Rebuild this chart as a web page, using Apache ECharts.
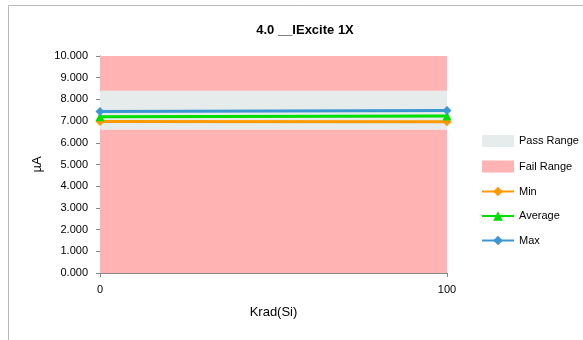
<!DOCTYPE html>
<html><head><meta charset="utf-8">
<script src="https://cdn.jsdelivr.net/npm/echarts@6/dist/echarts.min.js"></script>
<style>html,body{margin:0;padding:0;background:#fff}#c{width:583px;height:340px}</style>
</head><body><div id="c"></div>
<script>
const xValues = [0, 100];
const minValues = [6.98, 6.97];
const avgValues = [7.20, 7.24];
const maxValues = [7.44, 7.49];
const passRange = [6.6, 8.4];
const yRange = [0, 10];
const font = 'Liberation Sans, Arial, sans-serif';

const chart = echarts.init(document.getElementById('c'));
chart.setOption({
  animation: false,
  graphic: [{type:'rect', shape:{x:8.5,y:5.5,width:600,height:400}, style:{fill:'none',stroke:'#b8b8b8',lineWidth:1}, z:-10}],
  title: {text: '4.0 __IExcite 1X', left: 300, top: 19, textAlign: 'center',
    textStyle: {fontFamily: font, fontSize: 13, fontWeight: 'bold', color: '#000'}},
  grid: {left: 100, right: 136, top: 56, bottom: 67},
  legend: {orient: 'vertical', left: 476, top: 130, itemGap: 13.5, itemWidth: 32, itemHeight: 12,
    textStyle: {fontFamily: font, fontSize: 11, color: '#000'},
    data: [
      {name: 'Pass Range', icon: 'rect', itemStyle:{color:'#E6EBEB'}},
      {name: 'Fail Range', icon: 'rect', itemStyle:{color:'#FFB3B3'}},
      {name: 'Min'}, {name: 'Average'}, {name: 'Max'}
    ]},
  xAxis: {type: 'value', min: 0, max: 100, interval: 100,
    name: 'Krad(Si)', nameLocation: 'middle', nameGap: 33,
    nameTextStyle: {fontFamily: font, fontSize: 13, color: '#000'},
    axisLine: {lineStyle: {color: '#888'}}, axisTick: {show: true, length: 4, lineStyle:{color:'#888'}},
    splitLine: {show: false},
    axisLabel: {fontFamily: font, fontSize: 11, color: '#000', margin: 11}},
  yAxis: {type: 'value', min: yRange[0], max: yRange[1], interval: 1,
    name: 'µA', nameLocation: 'middle', nameGap: 53,
    nameTextStyle: {fontFamily: font, fontSize: 13, color: '#000'},
    axisLine: {show: true, lineStyle: {color: '#888'}}, axisTick: {show: true, length: 4, lineStyle:{color:'#888'}},
    splitLine: {show: false},
    axisLabel: {fontFamily: font, fontSize: 11, color: '#000', margin: 12, formatter: v => v.toFixed(3)}},
  series: [
    {name: 'Pass Range', type: 'line', data: [], itemStyle: {color: '#E6EBEB'},
      markArea: {silent: true, itemStyle: {color: '#E6EBEB'},
        data: [[{yAxis: passRange[0]}, {yAxis: passRange[1]}]]}},
    {name: 'Fail Range', type: 'line', data: [], itemStyle: {color: '#FFB3B3'},
      markArea: {silent: true, itemStyle: {color: '#FFB3B3'},
        data: [[{yAxis: yRange[0]}, {yAxis: passRange[0]}], [{yAxis: passRange[1]}, {yAxis: yRange[1]}]]}},
    {name: 'Min', type: 'line', data: xValues.map((x,i)=>[x,minValues[i]]), symbol: 'diamond', symbolSize: 9,
      lineStyle: {width: 3, color: '#FF9900'}, itemStyle: {color: '#FF9900'}, z: 5},
    {name: 'Average', type: 'line', data: xValues.map((x,i)=>[x,avgValues[i]]), symbol: 'triangle', symbolSize: 9,
      lineStyle: {width: 3, color: '#00DD00'}, itemStyle: {color: '#00DD00'}, z: 5},
    {name: 'Max', type: 'line', data: xValues.map((x,i)=>[x,maxValues[i]]), symbol: 'diamond', symbolSize: 9,
      lineStyle: {width: 3, color: '#3C96D2'}, itemStyle: {color: '#3C96D2'}, z: 5}
  ]
});
</script></body></html>
